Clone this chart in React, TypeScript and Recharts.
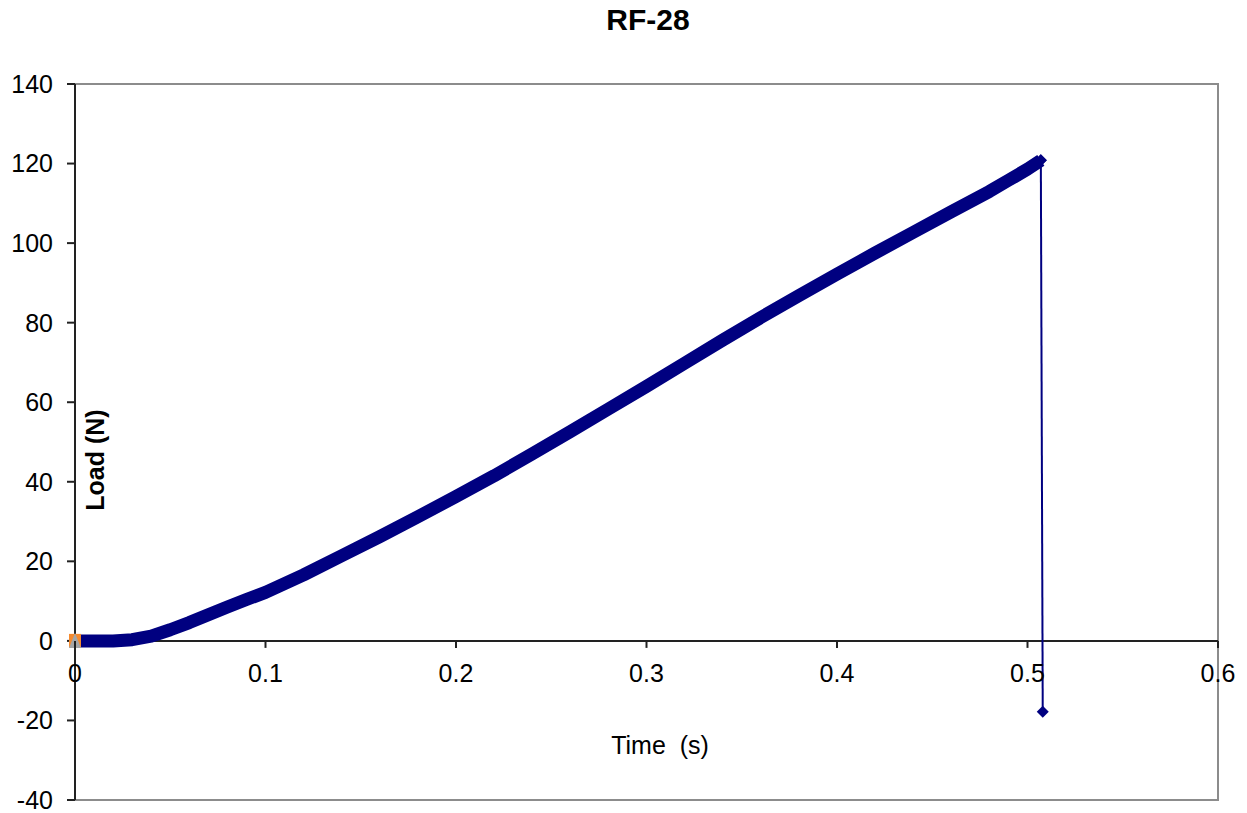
import {
  ComposedChart,
  Line,
  XAxis,
  YAxis,
  ReferenceLine,
  ReferenceArea,
} from "recharts"

// Load curve (time in s, load in N)
const timeValues = [
  0, 0.01, 0.02, 0.03, 0.04, 0.05, 0.06, 0.07, 0.08, 0.09, 0.1, 0.12, 0.14,
  0.16, 0.18, 0.2, 0.22, 0.24, 0.26, 0.28, 0.3, 0.32, 0.34, 0.36, 0.38, 0.4,
  0.42, 0.44, 0.46, 0.48, 0.49, 0.5, 0.507,
]
const loadValues = [
  0, 0, 0, 0.3, 1.2, 2.8, 4.6, 6.6, 8.5, 10.4, 12.2, 16.6, 21.4, 26.2, 31.2,
  36.3, 41.5, 47, 52.6, 58.3, 64, 69.8, 75.6, 81.3, 86.8, 92.2, 97.5, 102.7,
  107.9, 113, 115.8, 118.6, 120.8,
]

// failure drop
const dropTime = [0.507, 0.508]
const dropLoad = [120.8, -17.8]

// the two other series sitting at the origin
const squarePoint = [{ t: 0, load: 0 }]
const trianglePoint = [{ t: 0, load: 0 }]

const xTicks = [0, 0.1, 0.2, 0.3, 0.4, 0.5, 0.6]
const yTicks = [-40, -20, 0, 20, 40, 60, 80, 100, 120, 140]

const mainData = timeValues.map((t, i) => ({ t, load: loadValues[i] }))
const dropData = dropTime.map((t, i) => ({ t, load: dropLoad[i] }))

const W = 1247
const H = 813
const PLOT_TOP = 84
const PLOT_BOTTOM = 800
const ZERO_Y = PLOT_TOP + ((PLOT_BOTTOM - PLOT_TOP) * 140) / 180
const FONT = "'Liberation Sans', Arial, sans-serif"
const NAVY = "#000080"

function Diamond(props: any) {
  const { cx, cy, index } = props
  if (cx == null || cy == null) return <g key={index} />
  const r = 6
  return (
    <path
      key={index}
      d={`M${cx},${cy - r}L${cx + r},${cy}L${cx},${cy + r}L${cx - r},${cy}Z`}
      fill={NAVY}
    />
  )
}

function Square(props: any) {
  const { cx, cy, index } = props
  return <rect key={index} x={cx - 6} y={cy - 7} width={12} height={14} fill="#f58a2e" />
}

function Triangle(props: any) {
  const { cx, cy, index } = props
  return (
    <path
      key={index}
      d={`M${cx},${cy - 8}L${cx + 6},${cy + 7}L${cx - 6},${cy + 7}Z`}
      fill="#a6a6a6"
    />
  )
}

function XTick(props: any) {
  const { x, payload } = props
  return (
    <g>
      <line x1={x} x2={x} y1={ZERO_Y} y2={ZERO_Y + 7} stroke="#222" strokeWidth={2} />
      <text
        x={x}
        y={ZERO_Y + 41}
        textAnchor="middle"
        fontSize={25}
        fontFamily={FONT}
        fill="#000"
      >
        {payload.value}
      </text>
    </g>
  )
}

export default function App() {
  return (
    <div
      style={{
        position: "absolute",
        left: 0,
        top: 0,
        width: W,
        height: H,
        background: "#fff",
        fontFamily: FONT,
      }}
    >
      <ComposedChart
        width={W}
        height={H}
        margin={{ top: PLOT_TOP, right: W - 1218, bottom: H - PLOT_BOTTOM - 1, left: 10 }}
      >
        <ReferenceArea
          x1={0}
          x2={0.6}
          y1={-40}
          y2={140}
          fill="none"
          stroke="#8c8c8c"
          strokeWidth={2}
        />
        <XAxis
          type="number"
          dataKey="t"
          domain={[0, 0.6]}
          ticks={xTicks}
          height={1}
          axisLine={false}
          tickLine={false}
          tick={<XTick />}
          interval={0}
        />
        <YAxis
          type="number"
          dataKey="load"
          domain={[-40, 140]}
          ticks={yTicks}
          width={65}
          interval={0}
          axisLine={{ stroke: "#222", strokeWidth: 2 }}
          tickLine={{ stroke: "#222", strokeWidth: 2 }}
          tickSize={8}
          tickMargin={14}
          tick={{ fontSize: 25, fill: "#000", fontFamily: FONT }}
        />
        <ReferenceLine y={0} stroke="#222" strokeWidth={2} />
        <Line
          data={mainData}
          dataKey="load"
          type="linear"
          stroke={NAVY}
          strokeWidth={13}
          strokeLinejoin="round"
          dot={<Diamond />}
          activeDot={false}
          isAnimationActive={false}
        />
        <Line
          data={dropData}
          dataKey="load"
          type="linear"
          stroke={NAVY}
          strokeWidth={2}
          dot={<Diamond />}
          activeDot={false}
          isAnimationActive={false}
        />
        <Line
          data={squarePoint}
          dataKey="load"
          stroke="none"
          dot={<Square />}
          activeDot={false}
          isAnimationActive={false}
        />
        <Line
          data={trianglePoint}
          dataKey="load"
          stroke="none"
          dot={<Triangle />}
          activeDot={false}
          isAnimationActive={false}
        />
      </ComposedChart>

      <div
        style={{
          position: "absolute",
          left: 0,
          width: 1296,
          top: 5,
          textAlign: "center",
          fontSize: 30,
          fontWeight: "bold",
          lineHeight: "30px",
        }}
      >
        RF-28
      </div>
      <div
        style={{
          position: "absolute",
          left: 95,
          top: 460,
          transform: "translate(-50%, -50%) rotate(-90deg)",
          fontSize: 25,
          fontWeight: "bold",
          whiteSpace: "nowrap",
          lineHeight: "25px",
        }}
      >
        Load (N)
      </div>
      <div
        style={{
          position: "absolute",
          left: 660,
          top: 745,
          transform: "translate(-50%, -50%)",
          fontSize: 25,
          whiteSpace: "pre",
          lineHeight: "25px",
        }}
      >
        Time  (s)
      </div>
    </div>
  )
}
